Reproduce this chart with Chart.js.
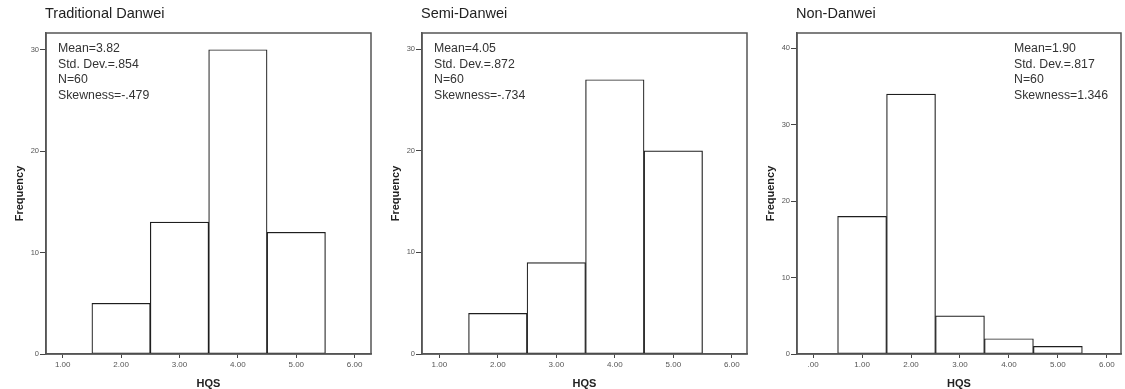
<!DOCTYPE html>
<html>
<head>
<meta charset="utf-8">
<script src="https://cdn.jsdelivr.net/npm/chart.js@4"></script>
<style>
  body { margin: 0; background: #fff; }
  #wrap { position: relative; width: 1125px; height: 389px; overflow: hidden; }
  canvas { position: absolute; top: 0; }
</style>
</head>
<body>
<div id="wrap">
  <canvas id="tradChart" width="375" height="389" style="left:0px"></canvas>
  <canvas id="semiChart" width="375" height="389" style="left:376px"></canvas>
  <canvas id="nonChart" width="374" height="389" style="left:751px"></canvas>
</div>
<script>
// histogram bins (bin centre on HQS) and frequencies
var tradBins = [2, 3, 4, 5];
var tradCounts = [5, 13, 30, 12];
var semiBins = [2, 3, 4, 5];
var semiCounts = [4, 9, 27, 20];
var nonBins = [1, 2, 3, 4, 5];
var nonCounts = [18, 34, 5, 2, 1];

// tick labels
var xTicksDanwei = [1, 2, 3, 4, 5, 6];
var xTicksNon = [0, 1, 2, 3, 4, 5, 6];
var yTicksDanwei = [0, 10, 20, 30];
var yTicksNon = [0, 10, 20, 30, 40];

// titles and the statistics text in each panel
var panelTitles = ["Traditional Danwei", "Semi-Danwei", "Non-Danwei"];
var tradStats = ["Mean=3.82", "Std. Dev.=.854", "N=60", "Skewness=-.479"];
var semiStats = ["Mean=4.05", "Std. Dev.=.872", "N=60", "Skewness=-.734"];
var nonStats = ["Mean=1.90", "Std. Dev.=.817", "N=60", "Skewness=1.346"];

var FONT = "'Liberation Sans', Arial, Helvetica, sans-serif";
Chart.defaults.font.family = FONT;

// frame round the plot, panel title and the stats block
var panelDecor = {
    id: "panelDecor",
    afterDraw: function(chart){
        var opts = chart.options.plugins.panelDecor;
        var a = chart.chartArea;
        var ctx = chart.ctx;
        ctx.save();
        ctx.strokeStyle = "#555";
        ctx.lineWidth = 1.5;
        ctx.strokeRect(a.left, a.top, a.right - a.left, a.bottom - a.top);
        ctx.fillStyle = "#222";
        ctx.textAlign = "left";
        ctx.textBaseline = "middle";
        ctx.font = "14.5px " + FONT;
        ctx.fillText(opts.title, a.left - 1, 14);
        ctx.font = "12.3px " + FONT;
        ctx.fillStyle = "#333";
        var x = opts.statsRight ? a.right - 107 : a.left + 12;
        for(let i = 0; i < opts.stats.length; i++){
            ctx.fillText(opts.stats[i], x, a.top + 16 + i * 15.5);
        }
        ctx.restore();
    }
};

function toPoints(bins, counts){
    var pts = [];
    for(let i = 0; i < bins.length; i++){
        pts.push({x: bins[i], y: counts[i]});
    }
    return pts;
}

function makeHistogram(id, title, bins, counts, stats, xTicks, yTicks, xMin, xMax, yMax, statsRight){
    new Chart(id, {
        type: "bar",
        data: {
            datasets: [{
                data: toPoints(bins, counts),
                backgroundColor: "#ffffff",
                borderColor: "#1e1e1e",
                borderWidth: 1.2,
                borderSkipped: false,
                barPercentage: 1,
                categoryPercentage: 1
            }]
        },
        plugins: [panelDecor],
        options: {
            responsive: false,
            animation: false,
            layout: { padding: { top: 33, right: 4, left: 0, bottom: 0 } },
            plugins: {
                legend: { display: false },
                tooltip: { enabled: false },
                panelDecor: { title: title, stats: stats, statsRight: statsRight }
            },
            scales: {
                x: {
                    type: "linear",
                    offset: false,
                    min: xMin,
                    max: xMax,
                    afterFit: function(s){ s.height = 35; },
                    afterBuildTicks: function(s){
                        s.ticks = xTicks.map(function(v){ return {value: v}; });
                    },
                    ticks: {
                        font: { size: 8 },
                        color: "#555",
                        padding: 2,
                        maxRotation: 0,
                        autoSkip: false,
                        callback: function(v){ return v === 0 ? ".00" : v.toFixed(2); }
                    },
                    grid: { offset: false, drawOnChartArea: false, tickLength: 4, tickColor: "#444", tickWidth: 1 },
                    border: { display: true, color: "#555", width: 1.5 },
                    title: {
                        display: true,
                        text: "HQS",
                        color: "#222",
                        font: { size: 11, weight: "bold", lineHeight: 1 },
                        padding: { top: 0, bottom: 0 }
                    }
                },
                y: {
                    type: "linear",
                    min: 0,
                    max: yMax,
                    afterFit: function(s){ s.width = 46; },
                    afterBuildTicks: function(s){
                        s.ticks = yTicks.map(function(v){ return {value: v}; });
                    },
                    ticks: { font: { size: 7.5 }, color: "#555", padding: 1 },
                    grid: { drawOnChartArea: false, tickLength: 6, tickColor: "#444", tickWidth: 1 },
                    border: { display: true, color: "#555", width: 1.5 },
                    title: {
                        display: true,
                        text: "Frequency",
                        color: "#222",
                        font: { size: 11, weight: "bold" },
                        padding: { top: 13, bottom: 0 }
                    }
                }
            }
        }
    });
}

makeHistogram("tradChart", panelTitles[0], tradBins, tradCounts, tradStats, xTicksDanwei, yTicksDanwei, 0.714, 6.28, 31.65, false);
makeHistogram("semiChart", panelTitles[1], semiBins, semiCounts, semiStats, xTicksDanwei, yTicksDanwei, 0.704, 6.26, 31.6, false);
makeHistogram("nonChart", panelTitles[2], nonBins, nonCounts, nonStats, xTicksNon, yTicksNon, -0.33, 6.29, 42, true);
</script>
</body>
</html>
